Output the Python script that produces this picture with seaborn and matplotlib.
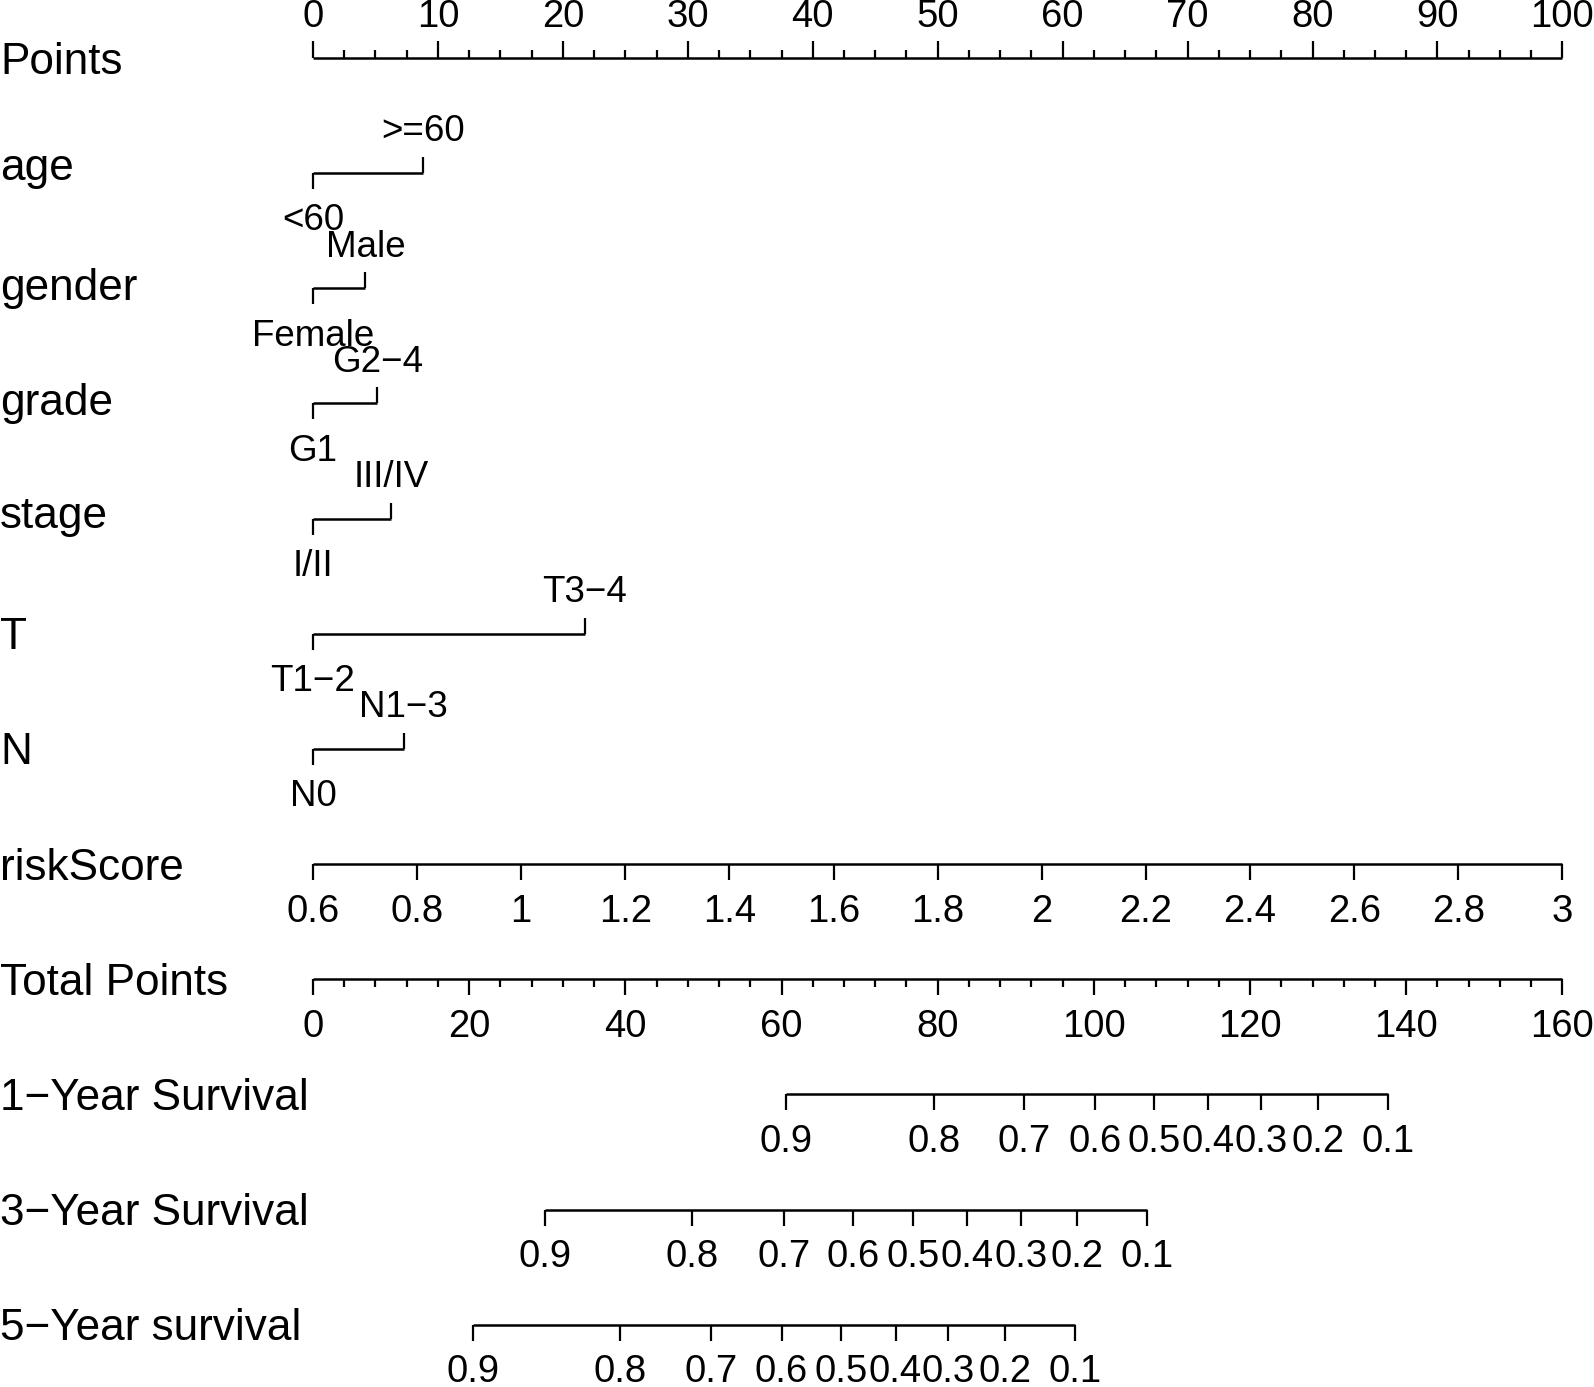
import numpy as np
import pandas as pd
import matplotlib
matplotlib.use("Agg")
import matplotlib.pyplot as plt
import matplotlib.transforms as mtransforms
from matplotlib.textpath import TextPath
from matplotlib.font_manager import FontProperties
import seaborn as sns

# ------------------------------------------------------------------ data
row_labels = ["Points", "age", "gender", "grade", "stage", "T", "N", "riskScore",
              "Total Points", "1\u2212Year Survival", "3\u2212Year Survival", "5\u2212Year survival"]

points_major = [0, 10, 20, 30, 40, 50, 60, 70, 80, 90, 100]
points_minor_step = 2.5

age_levels = ["<60", ">=60"]
age_points = [0, 8.8]
gender_levels = ["Female", "Male"]
gender_points = [0, 4.2]
grade_levels = ["G1", "G2\u22124"]
grade_points = [0, 5.15]
stage_levels = ["I/II", "III/IV"]
stage_points = [0, 6.25]
t_levels = ["T1\u22122", "T3\u22124"]
t_points = [0, 21.75]
n_levels = ["N0", "N1\u22123"]
n_points = [0, 7.25]

risk_ticks = [0.6, 0.8, 1.0, 1.2, 1.4, 1.6, 1.8, 2.0, 2.2, 2.4, 2.6, 2.8, 3.0]
risk_labels = ["0.6", "0.8", "1", "1.2", "1.4", "1.6", "1.8", "2", "2.2", "2.4", "2.6", "2.8", "3"]
risk_min, risk_max = 0.6, 3.0          # riskScore range spanning 0..100 points

total_major = [0, 20, 40, 60, 80, 100, 120, 140, 160]
total_minor_step = 4
total_max = 160                       # total points spanning the points axis

surv_labels = ["0.9", "0.8", "0.7", "0.6", "0.5", "0.4", "0.3", "0.2", "0.1"]
surv1_total = [60.6, 79.5, 91.1, 100.1, 107.7, 114.6, 121.4, 128.7, 137.7]
surv3_total = [29.7, 48.5, 60.3, 69.2, 76.9, 83.8, 90.7, 97.9, 106.8]
surv5_total = [20.5, 39.3, 51.0, 60.0, 67.6, 74.6, 81.3, 88.6, 97.6]

# ------------------------------------------------------------------ layout
W, H, DPI = 1594, 1387, 100
ROW_PX = 115.15          # vertical distance between rows (px)
TOP_PX = 58.0            # y of the Points line (px)
X0_PX, PX_PER_PT = 313.0, 12.494

sns.set_theme(style="white")
FONT = ["Liberation Sans", "DejaVu Sans"]
plt.rcParams["font.family"] = FONT
fp = FontProperties(family=FONT)

LABEL_PT = 31.8
TICK_PT = 27.5
CAT_PT = 26.5
LW = 1.8
TLW = 1.6
MAJ_LEN = 16 / ROW_PX
MIN_LEN = 8 / ROW_PX
LAB_OFF = 44.5 / ROW_PX

fig = plt.figure(figsize=(W / DPI, H / DPI), dpi=DPI)
ax = fig.add_axes([0, 0, 1, 1])
ax_tot = ax.twiny()
ax_risk = ax.twiny()

xl0 = -X0_PX / PX_PER_PT
xl1 = (W - X0_PX) / PX_PER_PT
yl_top = -TOP_PX / ROW_PX
yl_bot = (H - TOP_PX) / ROW_PX


def baseline_shift(s, size_pt):
    """rows to add to a centre y so that the ink of s is centred there."""
    tp = TextPath((0, 0), s, size=size_pt * DPI / 72, prop=fp)
    e = tp.get_extents()
    return ((e.y0 + e.y1) / 2) / ROW_PX


def ctext(a, x, yc, s, size):
    a.text(x, yc + baseline_shift(s, size), s, ha="center", va="baseline",
           fontsize=size, color="black", clip_on=False)


def hline(a, row, x0, x1):
    df = pd.DataFrame({"x": [x0, x1], "y": [row, row], "u": [0, 0]})
    sns.lineplot(data=df, x="x", y="y", units="u", estimator=None, ax=a,
                 color="black", lw=LW, legend=False, sort=False,
                 solid_capstyle="butt")


def ticks(a, row, xs, length, up):
    y1 = row - length if up else row + length
    a.vlines(xs, row, y1, color="black", lw=TLW)


# Points axis (labels above, ticks up)
r = 0
hline(ax, r, 0, 100)
minor = np.arange(0, 100 + 1e-9, points_minor_step)
ticks(ax, r, [m for m in minor if m not in points_major], MIN_LEN, True)
ticks(ax, r, points_major, MAJ_LEN + 1 / ROW_PX, True)
for v in points_major:
    ctext(ax, v, r - LAB_OFF, str(v), TICK_PT)

# categorical rows
cats = [(age_levels, age_points), (gender_levels, gender_points),
        (grade_levels, grade_points), (stage_levels, stage_points),
        (t_levels, t_points), (n_levels, n_points)]
for i, (levels, pts) in enumerate(cats):
    r = i + 1
    hline(ax, r, pts[0], pts[1])
    ticks(ax, r, [pts[0]], MAJ_LEN, False)
    ticks(ax, r, [pts[1]], MAJ_LEN, True)
    ctext(ax, pts[0], r + LAB_OFF, levels[0], CAT_PT)
    ctext(ax, pts[1], r - LAB_OFF, levels[1], CAT_PT)

# riskScore axis
r = 7
hline(ax_risk, r, risk_min, risk_max)
ticks(ax_risk, r, risk_ticks, MAJ_LEN, False)
for v, s in zip(risk_ticks, risk_labels):
    ctext(ax_risk, v, r + LAB_OFF, s, TICK_PT)

# Total points axis
r = 8
hline(ax_tot, r, 0, total_max)
tminor = np.arange(0, total_max + 1e-9, total_minor_step)
ticks(ax_tot, r, [m for m in tminor if m not in total_major], MIN_LEN, False)
ticks(ax_tot, r, total_major, MAJ_LEN, False)
for v in total_major:
    ctext(ax_tot, v, r + LAB_OFF, str(v), TICK_PT)

# survival axes
for k, tot in enumerate([surv1_total, surv3_total, surv5_total]):
    r = 9 + k
    hline(ax_tot, r, tot[0], tot[-1])
    ticks(ax_tot, r, tot, MAJ_LEN, False)
    for v, s in zip(tot, surv_labels):
        ctext(ax_tot, v, r + LAB_OFF, s, TICK_PT)

# row labels
trans = mtransforms.blended_transform_factory(ax.transAxes, ax.transData)
for i, lab in enumerate(row_labels):
    ax.text(0.0, i + baseline_shift(lab, LABEL_PT), lab, transform=trans,
            ha="left", va="baseline", fontsize=LABEL_PT, color="black")

# scales: all three x scales share the same pixel span
ax.set_xlim(xl0, xl1)
ax_tot.set_xlim(xl0 * total_max / 100, xl1 * total_max / 100)
ax_risk.set_xlim(risk_min + xl0 * (risk_max - risk_min) / 100,
                 risk_min + xl1 * (risk_max - risk_min) / 100)
for a in (ax, ax_tot, ax_risk):
    a.set_ylim(yl_bot, yl_top)
    a.set_axis_off()
    a.set_position([0, 0, 1, 1])

fig.savefig("out.png", dpi=DPI, facecolor="white")
